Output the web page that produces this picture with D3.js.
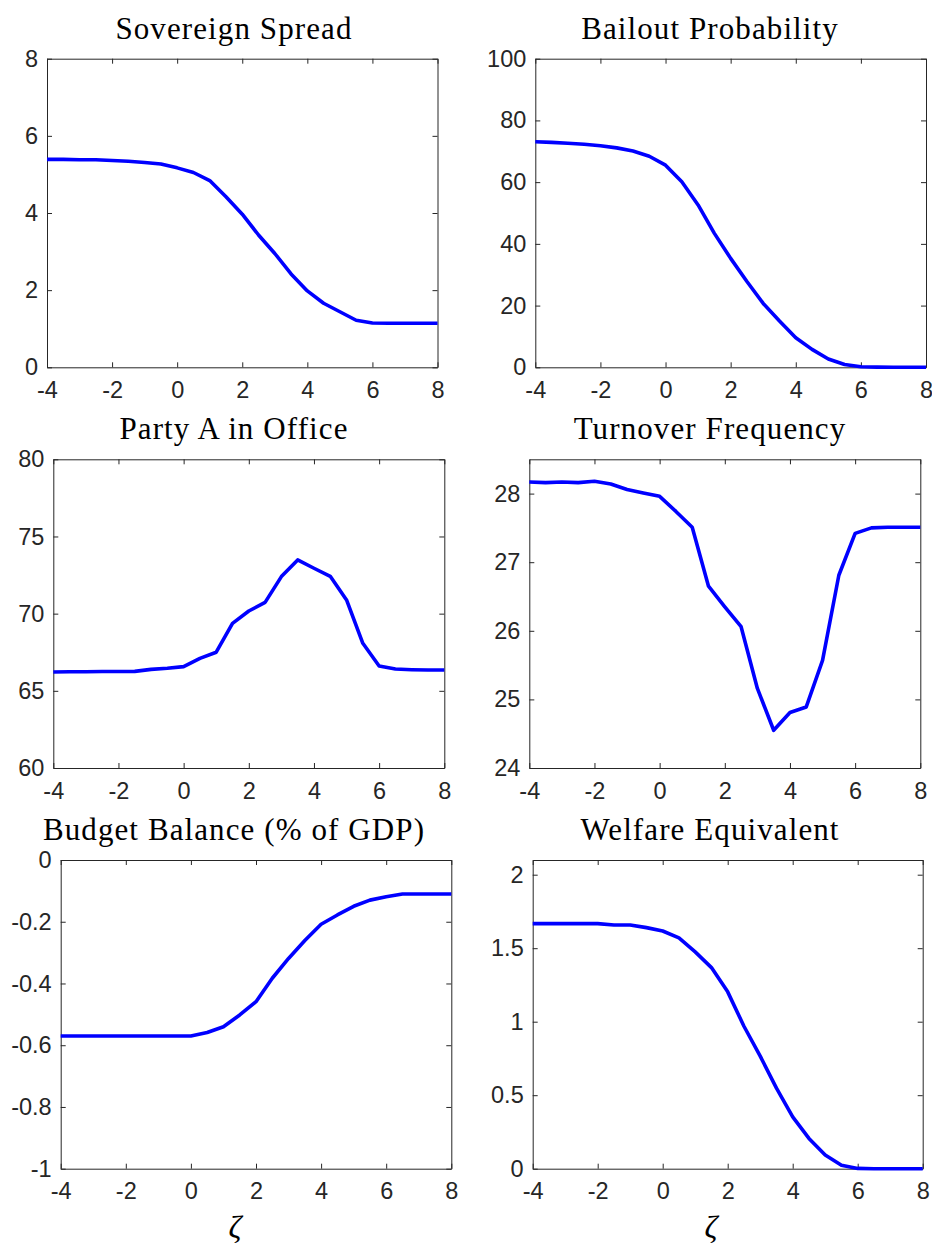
<!DOCTYPE html>
<html>
<head>
<meta charset="utf-8">
<script src="https://cdn.jsdelivr.net/npm/d3@7"></script>
<style>
  html, body { margin: 0; padding: 0; background: #fff; }
  svg { display: block; }
  .tick text { font-family: "Liberation Sans", Arial, sans-serif; font-size: 23.5px; fill: #262626; }
  .domain, .tick line { stroke: #262626; stroke-width: 1; }
  .title { font-family: "Liberation Serif", "DejaVu Serif", serif; font-size: 31px; letter-spacing: 1.1px; fill: #000; }
  .xlab { font-family: "Liberation Serif", "DejaVu Serif", serif; font-style: italic; font-size: 32px; fill: #000; }
</style>
</head>
<body>
<script>
// Common grid of zeta values
const zeta = [-4, -3.5, -3, -2.5, -2, -1.5, -1, -0.5, 0, 0.5, 1, 1.5, 2, 2.5, 3, 3.5, 4, 4.5, 5, 5.5, 6, 6.5, 7, 7.5, 8];
const xTicks = [-4, -2, 0, 2, 4, 6, 8];

// Series values
const sovereignSpread = [5.39, 5.39, 5.38, 5.38, 5.36, 5.34, 5.31, 5.27, 5.17, 5.05, 4.84, 4.42, 3.97, 3.43, 2.95, 2.42, 1.98, 1.66, 1.44, 1.22, 1.15, 1.14, 1.14, 1.14, 1.14];
const bailoutProbability = [73.1, 72.9, 72.6, 72.3, 71.8, 71.1, 70.1, 68.4, 65.5, 60.1, 52.6, 43.4, 35.3, 27.8, 20.7, 15.0, 9.6, 5.8, 2.7, 0.9, 0.2, 0.05, 0, 0, 0];
const partyAInOffice = [66.22, 66.24, 66.24, 66.25, 66.25, 66.26, 66.39, 66.46, 66.57, 67.1, 67.5, 69.37, 70.17, 70.73, 72.4, 73.48, 72.94, 72.42, 70.89, 68.08, 66.61, 66.41, 66.37, 66.35, 66.35];
const turnoverFrequency = [28.17, 28.16, 28.17, 28.16, 28.18, 28.14, 28.06, 28.01, 27.96, 27.74, 27.51, 26.65, 26.35, 26.06, 25.16, 24.55, 24.81, 24.89, 25.57, 26.81, 27.42, 27.50, 27.51, 27.51, 27.51];
const budgetBalance = [-0.57, -0.57, -0.57, -0.57, -0.57, -0.57, -0.57, -0.57, -0.57, -0.559, -0.540, -0.502, -0.459, -0.383, -0.319, -0.261, -0.208, -0.178, -0.150, -0.130, -0.119, -0.110, -0.110, -0.110, -0.110];
const welfareEquivalent = [1.667, 1.667, 1.667, 1.667, 1.667, 1.658, 1.658, 1.640, 1.617, 1.570, 1.475, 1.368, 1.203, 0.969, 0.766, 0.548, 0.353, 0.206, 0.093, 0.023, 0.002, 0, 0, 0, 0];

// Titles and y-axis ticks
const titles = ["Sovereign Spread", "Bailout Probability", "Party A in Office", "Turnover Frequency", "Budget Balance (% of GDP)", "Welfare Equivalent"];
const yTicks = [
  [0, 2, 4, 6, 8],
  [0, 20, 40, 60, 80, 100],
  [60, 65, 70, 75, 80],
  [24, 25, 26, 27, 28],
  [-1, -0.8, -0.6, -0.4, -0.2, 0],
  [0, 0.5, 1, 1.5, 2]
];
const yDomains = [[0, 8], [0, 100], [60, 80], [24, 28.5], [-1, 0], [0, 2.1]];
const seriesList = [sovereignSpread, bailoutProbability, partyAInOffice, turnoverFrequency, budgetBalance, welfareEquivalent];

// Panel frames: left, right, top, bottom (page pixels); title centre per column
const frames = [
  { l: 47,    r: 437.5, t: 58.7,  b: 367.3 },
  { l: 535.3, r: 926,   t: 58.7,  b: 367.3 },
  { l: 53.3,  r: 444.3, t: 459.3, b: 768 },
  { l: 529.3, r: 920.3, t: 459.3, b: 768 },
  { l: 60.7,  r: 451.3, t: 860,   b: 1168.7 },
  { l: 532.7, r: 922.7, t: 860,   b: 1168.7 }
];
const columnCentre = [234, 710];

const W = 932, H = 1246;
const svg = d3.select("body").append("svg").attr("width", W).attr("height", H);
svg.append("rect").attr("width", W).attr("height", H).attr("fill", "#fff");

seriesList.forEach((vals, i) => {
  const f = frames[i];
  const w = f.r - f.l, h = f.b - f.t;
  const x = d3.scaleLinear().domain([-4, 8]).range([0, w]);
  const y = d3.scaleLinear().domain(yDomains[i]).range([h, 0]);
  const g = svg.append("g").attr("transform", `translate(${f.l},${f.t})`);
  const fmt = d => String(d);

  g.append("g").attr("transform", `translate(0,${h})`)
    .call(d3.axisBottom(x).tickValues(xTicks).tickFormat(fmt).tickSize(-5).tickSizeOuter(0).tickPadding(14));
  g.append("g")
    .call(d3.axisTop(x).tickValues(xTicks).tickFormat("").tickSize(-5).tickSizeOuter(0));
  g.append("g")
    .call(d3.axisLeft(y).tickValues(yTicks[i]).tickFormat(fmt).tickSize(-5).tickSizeOuter(0).tickPadding(9));
  g.append("g").attr("transform", `translate(${w},0)`)
    .call(d3.axisRight(y).tickValues(yTicks[i]).tickFormat("").tickSize(-5).tickSizeOuter(0));

  const line = d3.line().x((d, k) => x(zeta[k])).y(d => y(d));
  g.append("path").datum(vals)
    .attr("d", line)
    .attr("fill", "none")
    .attr("stroke", "#0000ff")
    .attr("stroke-width", 3.6)
    .attr("stroke-linejoin", "round");

  const col = i % 2;
  svg.append("text").attr("class", "title")
    .attr("x", columnCentre[col]).attr("y", f.t - 20)
    .attr("text-anchor", "middle")
    .text(titles[i]);

  if (i >= 4) {
    svg.append("text").attr("class", "xlab")
      .attr("x", columnCentre[col] + 1).attr("y", 1238)
      .attr("text-anchor", "middle")
      .text("ζ");
  }
});
</script>
</body>
</html>
